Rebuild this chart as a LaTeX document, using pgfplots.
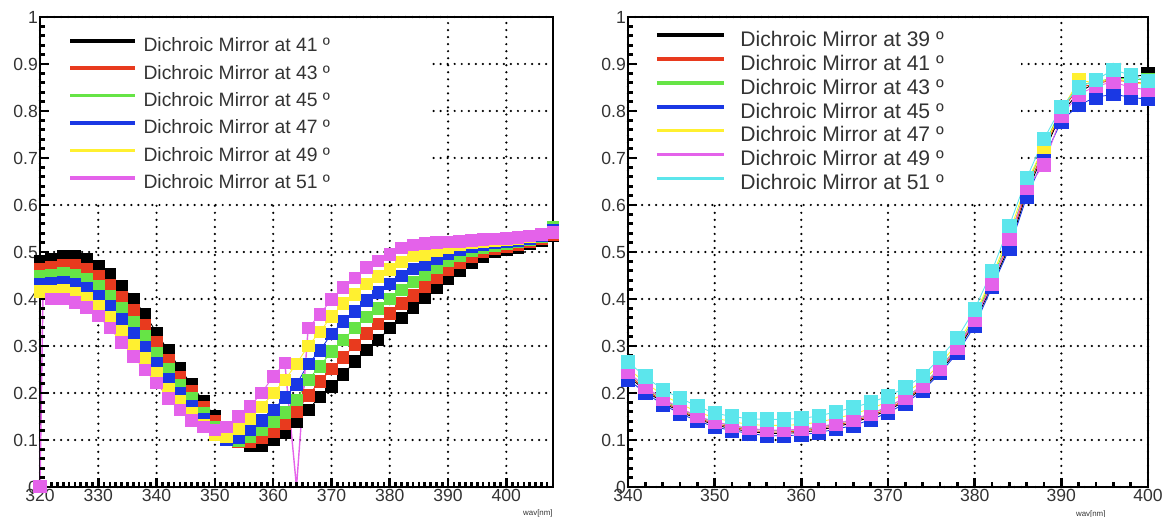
\documentclass[border=0pt]{standalone}
\usepackage{fontspec}
\setmainfont{Liberation Sans}
\usepackage{pgfplots}
\usepackage{pgfplotstable}
\pgfplotsset{compat=1.18}

\definecolor{cblk}{HTML}{000000}
\definecolor{cred}{HTML}{E83A1E}
\definecolor{cgrn}{HTML}{66E446}
\definecolor{cblu}{HTML}{1A38E4}
\definecolor{cyel}{HTML}{FFF030}
\definecolor{cmag}{HTML}{E462EA}
\definecolor{ccyn}{HTML}{5CE6EC}
\definecolor{ctxt}{HTML}{333333}

% left panel: 41..51 deg
\pgfplotstableread{
x    blk   red   grn   blu   yel   mag
320 .480 .464 .448 .432 .416 nan
322 .485 .468 .451 .434 .417 .400
324 .490 .472 .454 .436 .418 .400
326 .490 .471 .451 .432 .412 .393
328 .484 .464 .443 .423 .402 .382
330 .470 .449 .428 .406 .385 .364
332 .452 .429 .406 .384 .361 .338
334 .428 .404 .380 .356 .332 .308
336 .400 .376 .351 .327 .302 .278
338 .368 .344 .320 .297 .273 .249
340 .328 .307 .285 .264 .242 .221
342 .290 .270 .250 .229 .209 .189
344 .252 .234 .217 .199 .182 .164
346 .218 .203 .188 .172 .157 .142
348 .183 .170 .157 .144 .132 .128
350 .150 .140 .128 .115 .112 .121
352 .125 .114 .104 .100 .108 .128
354 .100 .096 .098 .106 .125 .150
356 .089 .096 .107 .121 .146 .171
358 .089 .105 .122 .142 .170 .200
360 .100 .118 .139 .164 .200 .235
362 .115 .135 .158 .190 .228 .264
364 .139 .160 .185 .218 .262 nan
366 .164 .195 .228 .262 .300 .338
368 .192 .224 .257 .290 .330 .367
370 .214 .251 .288 .326 .363 .399
372 .239 .276 .313 .352 .390 .424
374 .267 .302 .338 .374 .410 .445
376 .292 .327 .362 .397 .432 .467
378 .313 .347 .380 .414 .448 .481
380 .338 .369 .400 .432 .463 .495
382 .360 .390 .419 .449 .479 .509
384 .381 .408 .436 .464 .492 .515
386 .402 .427 .451 .474 .495 .518
388 .424 .446 .467 .486 .503 .520
390 .443 .463 .481 .497 .510 .521
392 .461 .478 .493 .505 .515 .523
394 .477 .490 .502 .511 .519 .525
396 .490 .500 .509 .516 .522 .527
398 .500 .507 .514 .519 .524 .528
400 .505 .511 .517 .521 .526 .529
402 .510 .515 .521 .524 .528 .531
404 .517 .521 .526 .528 .532 .534
406 .525 .528 .532 .534 .536 .537
408 .535 .537 .552 .546 .542 .542
}\leftdata

% the 51 deg start at 320 nm
\pgfplotstableread{
x     mag
320   .000
320.5 .400
322   .400
}\leftstart

% the 51 deg glitch near 364 nm
\pgfplotstableread{
x    mag
362 .264
364 .000
366 .338
}\leftdip

% right panel: 39..51 deg
\pgfplotstableread{
x    blk   red   grn   blu   yel   mag   cyn
340 .236 .240 .244 .229 .252 .245 .266
342 .205 .208 .212 .200 .222 .213 .235
344 .180 .183 .186 .176 .196 .188 .207
346 .160 .163 .166 .156 .177 .168 .189
348 .145 .147 .150 .141 .160 .151 .172
350 .132 .135 .138 .128 .147 .139 .157
352 .124 .127 .130 .120 .139 .131 .150
354 .118 .121 .124 .114 .133 .125 .145
356 .114 .117 .120 .109 .131 .121 .144
358 .114 .117 .120 .109 .131 .121 .144
360 .116 .119 .122 .111 .133 .123 .146
362 .121 .124 .127 .116 .138 .128 .151
364 .128 .131 .134 .123 .146 .135 .160
366 .137 .140 .143 .131 .155 .144 .169
368 .149 .152 .155 .143 .167 .156 .180
370 .163 .166 .170 .158 .181 .171 .193
372 .183 .186 .190 .178 .200 .190 .212
374 .210 .213 .217 .205 .225 .216 .236
376 .246 .250 .254 .242 .262 .252 .275
378 .290 .294 .298 .285 .305 .296 .317
380 .350 .355 .360 .343 .365 .356 .378
382 .430 .436 .442 .425 .447 .432 .460
384 .512 .520 .530 .507 .540 .528 .556
386 .625 .632 .640 .617 .648 .636 .657
388 .712 .718 .726 .700 .724 .685 .741
390 .795 .800 .805 .778 .800 .790 .808
392 .840 .850 .855 .813 .865 .835 .850
394 .860 .858 .862 .829 .860 .853 .866
396 .870 .866 .870 .836 .870 .862 .888
398 .872 .862 .868 .829 .862 .850 .876
400 .878 .858 .866 .825 .855 .845 .864
}\rightdata

\pgfplotsset{
  panel/.style={
    scale only axis, height=9.4cm,
    ymin=0, ymax=1,
    ytick={0,0.1,0.2,0.3,0.4,0.5,0.6,0.7,0.8,0.9,1},
  },
  % dotted grid only, drawn underneath
  gridaxis/.style={panel,
    axis line style={draw=none},
    tickwidth=0pt, subtickwidth=0pt,
    xticklabels={}, yticklabels={},
    grid=major,
    major grid style={black, line width=1.4pt, dash pattern=on 0pt off 4pt, line cap=round},
  },
  % frame, labels and data; tick marks are drawn as line marks
  rootaxis/.style={panel,
    axis line style={line width=1.5pt},
    xtick pos=bottom, ytick pos=left,
    tickwidth=0pt, subtickwidth=0pt,
    tick label style={font=\fontsize{10}{12}\selectfont, inner sep=1pt, text=ctxt},
    /pgf/number format/assume math mode=true,
    unbounded coords=jump,
    legend cell align=left,
    xlabel={wav[nm]},
    xlabel style={font=\fontsize{4.5}{5}\selectfont, inner sep=0pt, text=ctxt},
  },
  sq/.style={mark=square*, line width=0.5pt},
  xtk/.style={only marks, mark=|, forget plot, mark options={draw=black, solid, line width=1.5pt, line cap=butt}},
  ytk/.style={only marks, mark=-, forget plot, mark options={draw=black, solid, line width=1.5pt, line cap=butt}},
}

\begin{document}
\begin{tikzpicture}
\path[use as bounding box] (0,0) rectangle (23.28,10.34);

% ---- left panel ----
\begin{axis}[gridaxis,
  at={(0.8cm,0.6cm)}, anchor=south west, width=10.26cm,
  xmin=320, xmax=408, xtick={320,330,340,350,360,370,380,390,400}]
\end{axis}
\begin{axis}[rootaxis,
  at={(0.8cm,0.6cm)}, anchor=south west, width=10.26cm,
  xmin=320, xmax=408, xtick={320,330,340,350,360,370,380,390,400},
  xlabel style={at={(rel axis cs:1,0)}, anchor=north east, yshift=-0.44cm},
  legend style={at={(axis cs:324.8,0.957)}, anchor=north west, draw=none, fill=none,
    inner sep=0pt, row sep=5.6pt, font=\fontsize{11}{13}\selectfont, text=ctxt,
    nodes={inner sep=0pt, text height=8pt, text depth=2pt}},
  legend image code/.code={\draw[line width=2pt] (0cm,0.11cm) -- (1.3cm,0.11cm);
    \path (1.46cm,0.11cm);},
  every axis plot/.append style={mark size=3.3pt},
]
\fill[white] (axis cs:321.8,0.605) rectangle (axis cs:386.6,0.996);
% tick marks (inside): major 0.18 cm, minor 0.09 cm
\addplot[xtk, mark size=0.09cm] coordinates {(330,.0096) (340,.0096) (350,.0096) (360,.0096)
  (370,.0096) (380,.0096) (390,.0096) (400,.0096)};
\addplot[xtk, mark size=0.045cm] coordinates {
  (321,.0048) (322,.0048) (323,.0048) (324,.0048) (325,.0048) (326,.0048) (327,.0048) (328,.0048) (329,.0048)
  (331,.0048) (332,.0048) (333,.0048) (334,.0048) (335,.0048) (336,.0048) (337,.0048) (338,.0048) (339,.0048)
  (341,.0048) (342,.0048) (343,.0048) (344,.0048) (345,.0048) (346,.0048) (347,.0048) (348,.0048) (349,.0048)
  (351,.0048) (352,.0048) (353,.0048) (354,.0048) (355,.0048) (356,.0048) (357,.0048) (358,.0048) (359,.0048)
  (361,.0048) (362,.0048) (363,.0048) (364,.0048) (365,.0048) (366,.0048) (367,.0048) (368,.0048) (369,.0048)
  (371,.0048) (372,.0048) (373,.0048) (374,.0048) (375,.0048) (376,.0048) (377,.0048) (378,.0048) (379,.0048)
  (381,.0048) (382,.0048) (383,.0048) (384,.0048) (385,.0048) (386,.0048) (387,.0048) (388,.0048) (389,.0048)
  (391,.0048) (392,.0048) (393,.0048) (394,.0048) (395,.0048) (396,.0048) (397,.0048) (398,.0048) (399,.0048)
  (401,.0048) (402,.0048) (403,.0048) (404,.0048) (405,.0048) (406,.0048) (407,.0048)};
\addplot[ytk, mark size=0.09cm] coordinates {(320.77,.1) (320.77,.2) (320.77,.3) (320.77,.4)
  (320.77,.5) (320.77,.6) (320.77,.7) (320.77,.8) (320.77,.9)};
\addplot[ytk, mark size=0.045cm] coordinates {
  (320.39,.02) (320.39,.04) (320.39,.06) (320.39,.08) (320.39,.12) (320.39,.14) (320.39,.16) (320.39,.18)
  (320.39,.22) (320.39,.24) (320.39,.26) (320.39,.28) (320.39,.32) (320.39,.34) (320.39,.36) (320.39,.38)
  (320.39,.42) (320.39,.44) (320.39,.46) (320.39,.48) (320.39,.52) (320.39,.54) (320.39,.56) (320.39,.58)
  (320.39,.62) (320.39,.64) (320.39,.66) (320.39,.68) (320.39,.72) (320.39,.74) (320.39,.76) (320.39,.78)
  (320.39,.82) (320.39,.84) (320.39,.86) (320.39,.88) (320.39,.92) (320.39,.94) (320.39,.96) (320.39,.98)};
% data
\addplot[sq, cblk] table[x=x, y=blk] {\leftdata};
\addplot[sq, cred] table[x=x, y=red] {\leftdata};
\addplot[sq, cgrn] table[x=x, y=grn] {\leftdata};
\addplot[sq, cblu] table[x=x, y=blu] {\leftdata};
\addplot[sq, cyel] table[x=x, y=yel] {\leftdata};
\addplot[sq, cmag] table[x=x, y=mag] {\leftdata};
\addplot[sq, cmag, line width=0.8pt, mark indices={1}, forget plot] table[x=x, y=mag] {\leftstart};
\addplot[cmag, line width=0.8pt, forget plot] table[x=x, y=mag] {\leftdip};
\legend{Dichroic Mirror at 41 º, Dichroic Mirror at 43 º, Dichroic Mirror at 45 º,
  Dichroic Mirror at 47 º, Dichroic Mirror at 49 º, Dichroic Mirror at 51 º}
\end{axis}

% ---- right panel ----
\begin{axis}[gridaxis,
  at={(12.56cm,0.6cm)}, anchor=south west, width=10.4cm,
  xmin=340, xmax=400, xtick={340,350,360,370,380,390,400}]
\end{axis}
\begin{axis}[rootaxis,
  at={(12.56cm,0.6cm)}, anchor=south west, width=10.4cm,
  xmin=340, xmax=400, xtick={340,350,360,370,380,390,400},
  xlabel style={at={(rel axis cs:0.89,0)}, anchor=north, yshift=-0.46cm},
  legend style={at={(axis cs:343.1,0.970)}, anchor=north west, draw=none, fill=none,
    inner sep=0pt, row sep=2.6pt, font=\fontsize{12}{14}\selectfont, text=ctxt,
    nodes={inner sep=0pt, text height=8.5pt, text depth=2.5pt}},
  legend image code/.code={\draw[line width=2pt] (0cm,0.12cm) -- (1.34cm,0.12cm);
    \path (1.66cm,0.12cm);},
  every axis plot/.append style={mark size=3.8pt},
]
\fill[white] (axis cs:341.2,0.605) rectangle (axis cs:385.3,0.996);
% tick marks (inside)
\addplot[xtk, mark size=0.09cm] coordinates {(350,.0096) (360,.0096) (370,.0096) (380,.0096) (390,.0096)};
\addplot[xtk, mark size=0.045cm] coordinates {
  (342,.0048) (344,.0048) (346,.0048) (348,.0048) (352,.0048) (354,.0048) (356,.0048) (358,.0048)
  (362,.0048) (364,.0048) (366,.0048) (368,.0048) (372,.0048) (374,.0048) (376,.0048) (378,.0048)
  (382,.0048) (384,.0048) (386,.0048) (388,.0048) (392,.0048) (394,.0048) (396,.0048) (398,.0048)};
\addplot[ytk, mark size=0.09cm] coordinates {(340.52,.1) (340.52,.2) (340.52,.3) (340.52,.4)
  (340.52,.5) (340.52,.6) (340.52,.7) (340.52,.8) (340.52,.9)};
\addplot[ytk, mark size=0.045cm] coordinates {
  (340.26,.02) (340.26,.04) (340.26,.06) (340.26,.08) (340.26,.12) (340.26,.14) (340.26,.16) (340.26,.18)
  (340.26,.22) (340.26,.24) (340.26,.26) (340.26,.28) (340.26,.32) (340.26,.34) (340.26,.36) (340.26,.38)
  (340.26,.42) (340.26,.44) (340.26,.46) (340.26,.48) (340.26,.52) (340.26,.54) (340.26,.56) (340.26,.58)
  (340.26,.62) (340.26,.64) (340.26,.66) (340.26,.68) (340.26,.72) (340.26,.74) (340.26,.76) (340.26,.78)
  (340.26,.82) (340.26,.84) (340.26,.86) (340.26,.88) (340.26,.92) (340.26,.94) (340.26,.96) (340.26,.98)};
% data
\addplot[sq, cblk] table[x=x, y=blk] {\rightdata};
\addplot[sq, cred] table[x=x, y=red] {\rightdata};
\addplot[sq, cgrn] table[x=x, y=grn] {\rightdata};
\addplot[sq, cblu] table[x=x, y=blu] {\rightdata};
\addplot[sq, cyel] table[x=x, y=yel] {\rightdata};
\addplot[sq, cmag] table[x=x, y=mag] {\rightdata};
\addplot[sq, ccyn] table[x=x, y=cyn] {\rightdata};
\legend{Dichroic Mirror at 39 º, Dichroic Mirror at 41 º, Dichroic Mirror at 43 º,
  Dichroic Mirror at 45 º, Dichroic Mirror at 47 º, Dichroic Mirror at 49 º,
  Dichroic Mirror at 51 º}
\end{axis}
\end{tikzpicture}
\end{document}
